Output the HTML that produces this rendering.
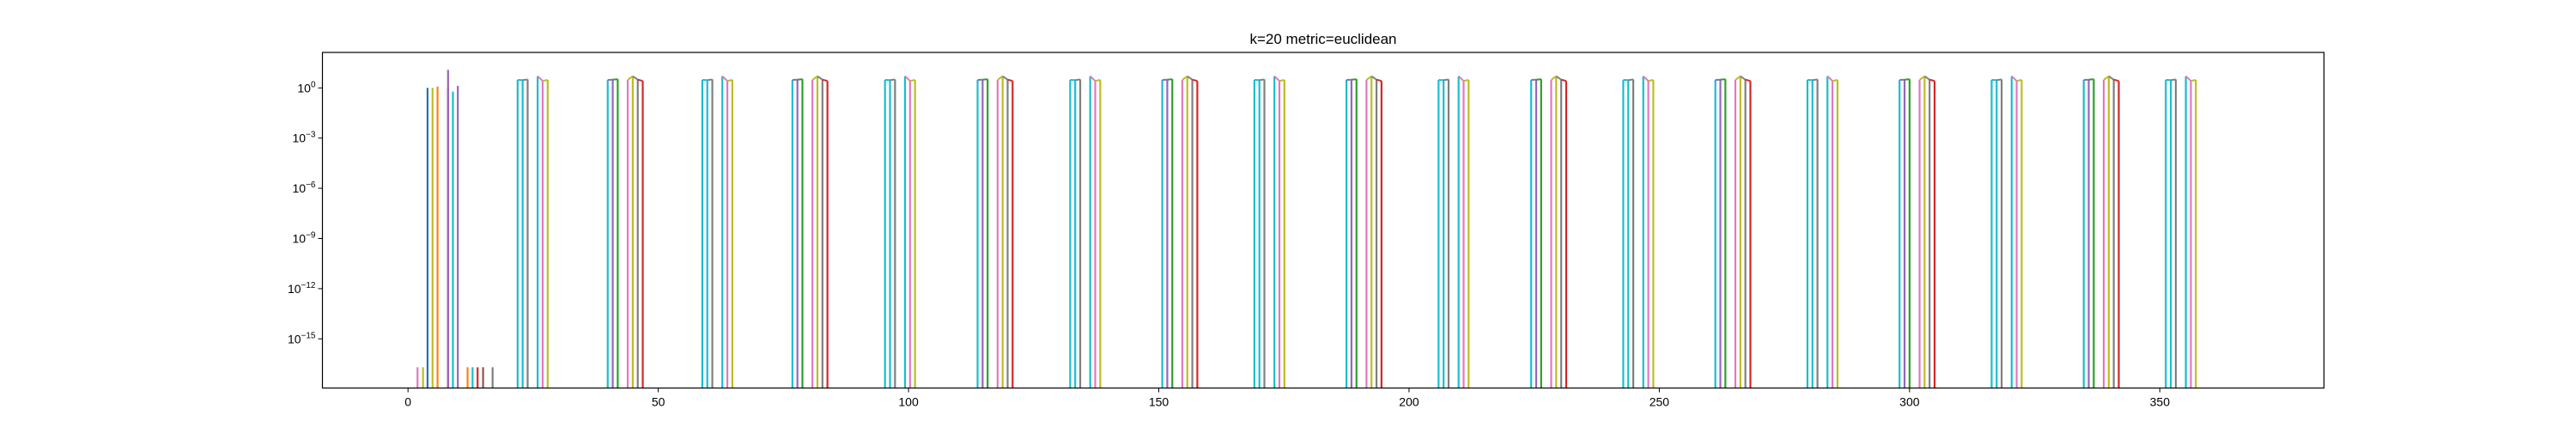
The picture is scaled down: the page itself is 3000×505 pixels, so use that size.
<!DOCTYPE html>
<html><head><meta charset="utf-8"><style>
html,body{margin:0;padding:0;background:#fff;}
svg text{font-family:"Liberation Sans","DejaVu Sans",sans-serif;}
</style></head><body>
<svg id="chart" width="3000" height="500" xmlns="http://www.w3.org/2000/svg">
<rect width="3000" height="500" fill="#fff"/>
<text x="1541" y="51" font-size="17" text-anchor="middle">k=20 metric=euclidean</text>
<g id="plot"></g>
</svg>
<script>
// ---- data ----
const xTicks = [0, 50, 100, 150, 200, 250, 300, 350];
const yTickExps = [0, -3, -6, -9, -12, -15];
// initial cluster
const initX = [1.9, 3.0, 3.9, 4.9, 5.9, 8.0, 8.0, 8.97, 9.95, 11.9, 12.9, 13.9, 15.0, 16.9];
const initVal = [2e-17, 2e-17, 1.0, 1.0, 1.2, 1.0, 12, 0.6, 1.3, 2e-17, 2e-17, 2e-17, 2e-17, 2e-17];
const initColor = [6, 8, 0, 8, 1, 5, 4, 9, 4, 1, 9, 3, 5, 7];
// repeating groups
const groupStart = [21.9, 39.9, 58.8, 76.8, 95.3, 113.8, 132.3, 150.7, 169.1, 187.5, 205.9, 224.4, 242.8, 261.2, 279.6, 298.0, 316.4, 334.8, 351.2];
const groupType = [0, 1, 0, 1, 0, 1, 0, 1, 0, 1, 0, 1, 0, 1, 0, 1, 0, 1, 0];
const patAOffset = [0, 1, 2, 4, 5, 6];
const patAVal = [3.0, 2.9, 3.2, 5.0, 2.6, 3.0];
const patAColor = [9, 9, 7, 9, 6, 8];
const patBOffset = [0, 1, 2, 4, 5, 6, 7];
const patBVal = [3.0, 3.1, 3.3, 3.0, 5.0, 3.1, 2.6];
const patBColor = [9, 4, 2, 6, 8, 7, 3];
const palette = ['#1f77b4','#ff7f0e','#2ca02c','#d62728','#9467bd','#8c564b','#e377c2','#7f7f7f','#bcbd22','#17becf'];

// ---- axes ----
const L = 375.5, R = 2706.5, T = 61, B = 451.5;
const xMin = -17.1, xMax = 382.8;
const yMinExp = -17.94, yMaxExp = 2.12;
const sx = v => L + (v - xMin) / (xMax - xMin) * (R - L);
const sy = v => { const e = Math.log10(v); return B - (e - yMinExp) / (yMaxExp - yMinExp) * (B - T); };
const NS = 'http://www.w3.org/2000/svg';
const plot = document.getElementById('plot');
function mk(tag, attrs, parent) {
  const el = document.createElementNS(NS, tag);
  for (const k in attrs) el.setAttribute(k, attrs[k]);
  (parent || plot).appendChild(el);
  return el;
}
const clip = mk('clipPath', {id: 'pc'});
mk('rect', {x: L, y: T, width: R - L, height: B - T}, clip);
const marks = mk('g', {'clip-path': 'url(#pc)'});



function bar(x, v, c) {
  const ln = mk('line', {x1: sx(x), x2: sx(x), y1: B + 5, y2: sy(v), stroke: palette[c], 'stroke-width': 2.2}, marks);
  
  
}
for (let i = 0; i < initX.length; i++) bar(initX[i], initVal[i], initColor[i]);
for (let g = 0; g < groupStart.length; g++) {
  const off = groupType[g] ? patBOffset : patAOffset;
  const val = groupType[g] ? patBVal : patAVal;
  const col = groupType[g] ? patBColor : patAColor;
  for (let i = 0; i < off.length; i++) {
    bar(groupStart[g] + off[i], val[i], col[i]);
    if (i > 0 && off[i] - off[i - 1] === 1) {
      const c = mk('line', {x1: sx(groupStart[g] + off[i - 1]), y1: sy(val[i - 1]), x2: sx(groupStart[g] + off[i]), y2: sy(val[i]), stroke: palette[col[i]], 'stroke-width': 2}, marks);
      
      
    }
  }
}
// frame
const frame = mk('rect', {x: L, y: T, width: R - L, height: B - T, fill: 'none', stroke: '#000', 'stroke-width': 1.2});


// x ticks
xTicks.forEach(t => {
  const x = sx(t);
  const tk = mk('line', {x1: x, x2: x, y1: B, y2: B + 5, stroke: '#000', 'stroke-width': 1});
  
  
  const tx = mk('text', {x: x, y: B + 21, 'font-size': 14, 'text-anchor': 'middle'});
  tx.textContent = String(t);
  
  
});
// y ticks
yTickExps.forEach(e => {
  const y = sy(Math.pow(10, e));
  const tk = mk('line', {x1: L - 5, x2: L, y1: y, y2: y, stroke: '#000', 'stroke-width': 1});
  
  
  const tx = mk('text', {x: L - 8, y: y + 5, 'font-size': 14, 'text-anchor': 'end'});
  
  
  const sup = String(e).replace('-', '\u2212');
  tx.innerHTML = '10<tspan dy="-6" font-size="10">' + sup + '</tspan>';
});
</script>
</body></html>
